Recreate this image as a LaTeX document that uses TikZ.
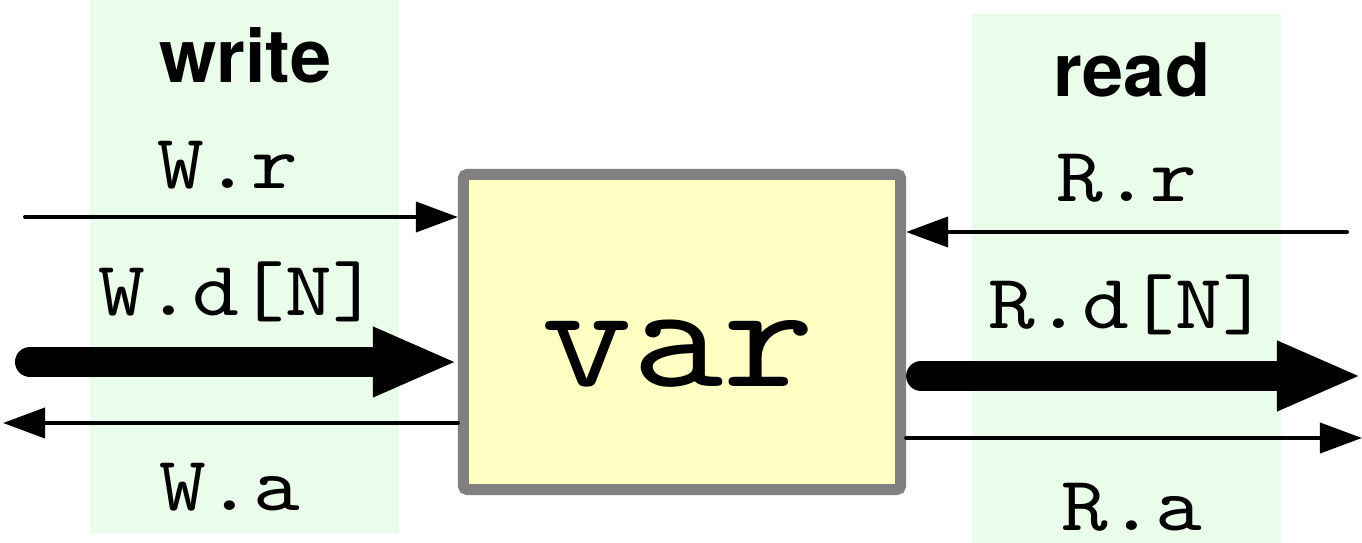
\documentclass[tikz,border=0pt]{standalone}
\usepackage{fontspec}
\setsansfont{TeX Gyre Heros}
\newfontfamily\codefont[FakeStretch=1.15]{lmmono10-regular.otf}
\usetikzlibrary{arrows.meta}
\definecolor{bandgreen}{RGB}{234,252,234}
\definecolor{varyellow}{RGB}{255,255,196}
\definecolor{vargray}{RGB}{128,128,128}

\begin{document}
\begin{tikzpicture}[x=0.01cm,y=-0.01cm,
    thin wire/.style={line width=0.04cm,line cap=round,-{Triangle[length=0.42cm,width=0.3cm]}},
    bus wire/.style={line width=0.3cm,line cap=round,-{Triangle[length=0.85cm,width=0.64cm]}},
    side label/.style={font=\sffamily\bfseries\fontsize{21}{21}\selectfont,anchor=base,inner sep=0pt},
    port label/.style={font=\codefont\fontsize{22}{22}\selectfont,anchor=base,inner sep=0pt}]
    \useasboundingbox (0,0) rectangle (1362,543);

    % draw the two sides
    \fill[bandgreen] (90,0) rectangle (399,533);
    \fill[bandgreen] (972,14) rectangle (1281,543);
    \node[side label] (write) at (245,83) {write};
    \node[side label] (read) at (1132,97) {read};

    % draw the variable
    \node[draw=vargray,fill=varyellow,line width=0.11cm,rounded corners=0.04cm,
          minimum width=4.37cm,minimum height=3.15cm] (var) at (682,332) {};
    \node[font=\codefont\fontsize{43}{43}\selectfont,anchor=base,inner sep=0pt] (varname) at (678,387) {var};

    % draw the write port
    \coordinate (wr) at (25,217);
    \coordinate (wd) at (30,362);
    \coordinate (wa) at (3,423);
    \draw[thin wire] (wr) -- (wr -| var.west);
    \draw[bus wire] (wd) -- (wd -| var.west);
    \draw[thin wire] (wa -| var.west) -- (wa);

    % draw the read port
    \coordinate (rr) at (1347,232);
    \coordinate (rd) at (1362,376);
    \coordinate (ra) at (1362,438);
    \draw[thin wire] (rr) -- (rr -| var.east);
    \draw[bus wire,shorten <=0.15cm] (rd -| var.east) -- (rd);
    \draw[thin wire] (ra -| var.east) -- (ra);

    % port labels
    \node[port label] (wrl) at (228,189) {W.r};
    \node[port label] (wdl) at (239,316) {W.d[N]};
    \node[port label] (wal) at (230,511) {W.a};
    \node[port label] (rrl) at (1127,202) {R.r};
    \node[port label] (rdl) at (1129,329) {R.d[N]};
    \node[port label] (ral) at (1132,531) {R.a};
\end{tikzpicture}
\end{document}
